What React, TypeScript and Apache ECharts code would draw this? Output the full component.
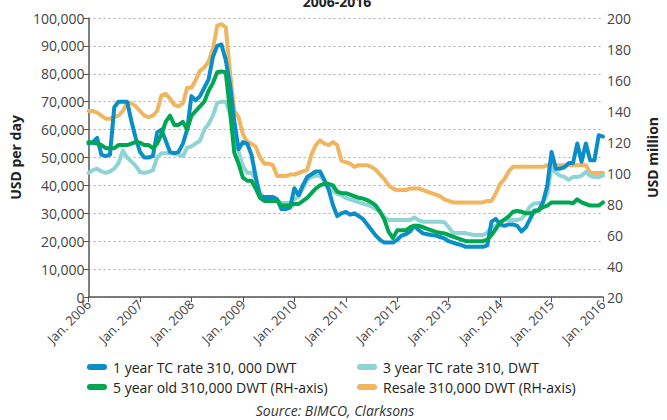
import React, { useEffect, useRef } from 'react';
import * as echarts from 'echarts';

const startYear = 2006;
const endYear = 2016;
const tickPrefix = 'Jan. ';

const seriesNames = [
  '1 year TC rate 310, 000 DWT',
  '3 year TC rate 310, DWT',
  '5 year old 310,000 DWT (RH-axis)',
  'Resale 310,000 DWT (RH-axis)',
];

// monthly values, Jan 2006 .. Jan 2016 (USD per day)
const oneYearTC = [
  55000, 55500, 57000, 51000, 50500, 51000, 68000, 70000, 70000, 70000,
  63000, 57000, 52000, 50000, 50000, 50500, 59000, 60000, 56000, 52000,
  51500, 52000, 55000, 60000, 72000, 70500, 72000, 75000, 78000, 86000,
  90000, 90500, 85000, 76000, 63000, 53000, 55500, 55000, 51000, 43000,
  36000, 35800, 35800, 35800, 35000, 31500, 31500, 32000, 39000, 36500,
  40000, 43000, 44000, 45000, 45000, 42000, 38500, 33000, 29000, 30000,
  30500, 29500, 30000, 29000, 28000, 26000, 24000, 22000, 20500, 19500,
  19500, 19500, 20500, 22000, 22500, 23500, 25500, 24000, 22800, 22500,
  22200, 22000, 21500, 21000, 20000, 19500, 19000, 18600, 18000, 18000,
  18000, 18000, 18000, 18500, 27000, 28000, 26000, 25500, 26000, 26000,
  25500, 23500, 25000, 28000, 31000, 31000, 34000, 40000, 52000, 46000,
  46000, 46500, 48000, 48000, 55000, 48500, 55000, 49000, 49000, 58000,
  57500,
];

const threeYearTC = [
  44500, 45500, 46000, 45000, 44500, 45000, 46000, 48000, 52500, 50000,
  48500, 47000, 44800, 44500, 44800, 45500, 50000, 51500, 51500, 51500,
  51500, 51000, 50500, 53500, 54000, 55000, 56000, 60000, 62000, 65000,
  69500, 70000, 70000, 66000, 57000, 52000, 47000, 44500, 44500, 42000,
  37500, 35500, 35000, 34800, 34500, 33700, 33700, 33700, 35000, 36000,
  39000, 42000, 43000, 43500, 43500, 41500, 39500, 38000, 37000, 36500,
  35500, 35000, 34500, 34000, 33500, 33000, 32500, 31500, 30500, 28500,
  27600, 27600, 27600, 27600, 27600, 27600, 28500, 27500, 27000, 27000,
  27000, 27000, 27000, 26800, 25000, 23000, 22900, 22900, 22900, 22500,
  22200, 22200, 22200, 23000, 25000, 25500, 27000, 27600, 27600, 27600,
  27600, 28000, 30000, 32500, 33500, 33700, 33700, 37000, 46500, 44500,
  43500, 43000, 42000, 43000, 43000, 43500, 44800, 43500, 43000, 43000,
  43500,
];

// USD million (right axis)
const fiveYearOld = [
  120, 119.5, 119, 118, 116, 116, 116, 118, 118, 118,
  119, 120, 119.5, 118, 118, 116, 119, 125, 133, 137,
  131, 131, 133, 128, 137, 140, 143, 146, 153, 158,
  165, 165.5, 165, 140, 113, 106, 97, 95, 95, 90,
  84, 82, 82, 82, 82, 79, 79, 79, 80, 80,
  82, 84, 87, 90, 92, 93, 93, 92, 88, 87,
  87, 86, 85, 84, 83.5, 82.5, 81, 79, 75, 70,
  62, 58, 63, 63, 63, 65, 66, 66, 65, 64,
  63, 62, 61.5, 61, 60, 59, 58, 57, 56, 56,
  56, 56, 56, 57, 60, 64, 68, 70, 72, 75,
  75.5, 75, 74, 74, 75, 76, 78, 79, 81, 81,
  81, 81, 81, 80.5, 83, 81, 80, 79, 79, 79,
  81,
];

const resale = [
  140, 140, 139, 137, 135, 135, 136, 137, 140, 145,
  145, 143, 140, 137, 136, 137, 140, 150, 151, 148,
  144, 143, 145, 155, 155, 160, 166, 168, 172, 180,
  195, 196, 194, 165, 140, 136, 125, 120, 119, 117,
  110, 106, 106, 105, 98, 98, 98, 99, 99, 100,
  101, 102, 112, 118, 121, 119, 118, 120, 118, 108,
  107, 106, 104, 105, 105, 105, 104, 102, 99, 96,
  92, 90, 89, 89, 89, 90, 90, 90, 89, 88,
  87, 86, 85, 83, 82, 81, 81, 81, 81, 81,
  81, 81, 81, 82, 82, 87, 93, 96, 101, 104,
  104, 104, 104, 104, 104, 104, 104, 105, 105, 105,
  105, 105, 105, 105, 105, 105, 105, 100, 100, 100,
  100,
];

const colors = ['#0a8ec8', '#8ed4d4', '#00a651', '#f0b65f'];
const FONT = 'Open Sans';

const toPairs = (arr: number[]) => arr.map((v, i) => [startYear + i / 12, v]);

const capsule = 'path://M3,0 L17,0 A3,3 0 0 1 17,6 L3,6 A3,3 0 0 1 3,0 Z';

function legendItem(name: string, left: number, top: number) {
  return {
    data: [name],
    left,
    top,
    icon: capsule,
    itemWidth: 20,
    itemHeight: 6,
    itemGap: 0,
    selectedMode: false,
    padding: 0,
    textStyle: { fontSize: 14, color: '#222', fontFamily: FONT, padding: [0, 0, 0, 1] },
  };
}

export default function App() {
  const ref = useRef<HTMLDivElement>(null);
  useEffect(() => {
    document.body.style.margin = '0';
    const chart = echarts.init(ref.current!, null, { renderer: 'svg' });
    const line = (idx: number, data: number[], yAxisIndex: number, z: number) => ({
      name: seriesNames[idx],
      type: 'line',
      yAxisIndex,
      data: toPairs(data),
      showSymbol: false,
      symbol: 'none',
      z,
      lineStyle: { width: 4, color: colors[idx], cap: 'round', join: 'round' },
      itemStyle: { color: colors[idx] },
    });
    chart.setOption({
      animation: false,
      textStyle: { fontFamily: FONT },
      grid: { left: 84, right: 56, top: 18, bottom: 123 },
      legend: [
        legendItem(seriesNames[0], 87, 360),
        legendItem(seriesNames[1], 357, 360),
        legendItem(seriesNames[2], 87, 380),
        legendItem(seriesNames[3], 357, 380),
      ],
      xAxis: {
        type: 'value',
        min: startYear,
        max: endYear,
        interval: 1,
        axisLine: { lineStyle: { color: '#555', width: 1.5 } },
        axisTick: { show: true, length: 5, lineStyle: { color: '#555' } },
        axisLabel: {
          rotate: 45,
          fontSize: 13,
          color: '#444',
          margin: 5,
          fontFamily: FONT,
          formatter: (v: number) => tickPrefix + v,
        },
        splitLine: { show: false },
      },
      yAxis: [
        {
          type: 'value',
          min: 0,
          max: 100000,
          interval: 10000,
          name: 'USD per day',
          nameLocation: 'middle',
          nameGap: 64,
          nameRotate: 90,
          nameTextStyle: { fontWeight: 'bold', fontSize: 14, color: '#222', fontFamily: FONT },
          axisLine: { show: true, lineStyle: { color: '#555', width: 1.5 } },
          axisTick: { show: true, length: 5, lineStyle: { color: '#555' } },
          axisLabel: {
            fontSize: 14,
            color: '#444',
            margin: 4,
            fontFamily: FONT,
            formatter: (v: number) => v.toLocaleString('en-US'),
          },
          splitLine: { show: true, lineStyle: { color: '#aaa', type: [2, 3], width: 1 } },
        },
        {
          type: 'value',
          position: 'right',
          min: 20,
          max: 200,
          interval: 20,
          name: 'USD million',
          nameLocation: 'middle',
          nameGap: 42,
          nameRotate: 90,
          nameTextStyle: { fontWeight: 'bold', fontSize: 14, color: '#222', fontFamily: FONT },
          axisLine: { show: false },
          axisTick: { show: false },
          axisLabel: { fontSize: 14, color: '#444', margin: 4, fontFamily: FONT },
          splitLine: { show: false },
        },
      ],
      graphic: [
        {
          type: 'text',
          x: 337,
          y: 8,
          style: {
            text: '2006-2016',
            align: 'center',
            verticalAlign: 'bottom',
            fontSize: 14,
            fontWeight: 'bold',
            fill: '#222',
            fontFamily: FONT,
          },
        },
        {
          type: 'text',
          x: 335,
          y: 410,
          style: {
            text: 'Source: BIMCO, Clarksons',
            align: 'center',
            verticalAlign: 'middle',
            fontSize: 14,
            fontStyle: 'italic',
            fill: '#333',
            fontFamily: FONT,
          },
        },
      ],
      series: [
        line(3, resale, 1, 2),
        line(1, threeYearTC, 0, 3),
        line(0, oneYearTC, 0, 4),
        line(2, fiveYearOld, 1, 5),
      ],
    });
    return () => chart.dispose();
  }, []);
  return <div ref={ref} style={{ width: 667, height: 420 }} />;
}
